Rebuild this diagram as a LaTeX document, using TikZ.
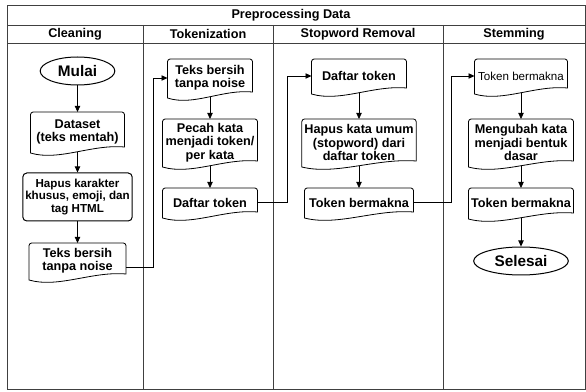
\documentclass[tikz,border=0pt]{standalone}
\usepackage{fontspec}
\setmainfont{Liberation Sans}
\usetikzlibrary{shapes.geometric,arrows.meta,calc}

\tikzset{every picture/.style={line width=0.75pt}}
\tikzset{
  lane/.style={draw=black!75, line width=0.6pt},
  lanetitle/.style={inner sep=0.75pt, font=\fontsize{9.5}{11}\selectfont\bfseries},
  doc/.style={align=center, inner sep=1pt, font=\fontsize{9.5}{10}\selectfont\bfseries},
  process/.style={draw, rounded corners=3pt, align=center, inner sep=1pt, font=\fontsize{8.7}{9.7}\selectfont\bfseries},
  terminal/.style={draw, ellipse, inner sep=0pt, minimum height=21pt, font=\fontsize{11.5}{12}\selectfont\bfseries},
  flow/.style={-{Triangle[length=4.5pt,width=4pt]}, line width=0.6pt}
}
% document shape drawn round a named node, wavy bottom through its south anchor
\newcommand{\docshape}[1]{%
  \draw[line width=0.6pt] ($(#1.south west)+(0,1)$) [rounded corners=2pt] -- (#1.north west) -- (#1.north east) [sharp corners] -- ($(#1.south east)+(0,-5)$) .. controls ($(#1.south east)!0.35!(#1.south west)+(0,-8)$) and ($(#1.south east)!0.7!(#1.south west)+(0,9.5)$) .. ($(#1.south west)+(0,1)$) -- cycle;}

\begin{document}
\begin{tikzpicture}[x=0.75pt,y=0.75pt,yscale=-1,xscale=1]
\fill[white] (0,0) rectangle (586,392);
\useasboundingbox (0,0) rectangle (586,392);

%Swimlanes
\draw[lane] (7,5) rectangle (585,389);
\draw[lane] (7,25) -- (585,25);
\draw[lane] (7,43) -- (585,43);
\draw[lane] (143,25) -- (143,389);
\draw[lane] (273,25) -- (273,389);
\draw[lane] (443,25) -- (443,389);

% Lane titles
\node[lanetitle] (judul) at (291,15) {Preprocessing Data};
\node[lanetitle] (hcl) at (75,34) {Cleaning};
\node[lanetitle] (htk) at (208,34) {Tokenization};
\node[lanetitle] (hsw) at (358,34) {Stopword Removal};
\node[lanetitle] (hst) at (514,34) {Stemming};

% Cleaning
\node[terminal, minimum width=56pt] (mulai) at (77.5,71) {Mulai};
\node[doc, anchor=north, minimum width=69.75pt, minimum height=29.25pt] (cl2) at (77.5,112) {Dataset\\(teks mentah)};
\node[process, minimum width=82pt, minimum height=36pt] (cl3) at (77.5,197) {Hapus karakter\\khusus, emoji, dan\\tag HTML};
\node[doc, anchor=north, minimum width=72pt, minimum height=26.25pt] (cl4) at (77.5,243) {Teks bersih\\tanpa noise};

% Tokenization
\node[doc, anchor=north, minimum width=63pt, minimum height=27.75pt] (tk1) at (210,59) {Teks bersih\\tanpa noise};
\node[doc, anchor=north, minimum width=70.5pt, minimum height=34.5pt] (tk2) at (210,119) {Pecah kata\\menjadi token/\\per kata};
\node[doc, anchor=north, minimum width=70.5pt, minimum height=21pt] (tk3) at (210,188) {Daftar token};

% Stopword Removal
\node[doc, anchor=north, minimum width=70.5pt, minimum height=24.75pt] (sw1) at (359,59) {Daftar token};
\node[doc, anchor=north, minimum width=85pt, minimum height=34.5pt] (sw2) at (359,119) {Hapus kata umum\\(stopword) dari\\daftar token};
\node[doc, anchor=north, minimum width=81pt, minimum height=21pt] (sw3) at (359,188) {Token bermakna};

% Stemming
\node[doc, anchor=north, minimum width=69pt, minimum height=24.75pt, font=\fontsize{8.7}{10}\selectfont] (st1) at (521,59) {Token bermakna};
\node[doc, anchor=north, minimum width=78pt, minimum height=34.5pt] (st2) at (521,119) {Mengubah kata\\menjadi bentuk\\dasar};
\node[doc, anchor=north, minimum width=78pt, minimum height=21.75pt] (st3) at (521,188) {Token bermakna};
\node[terminal, minimum width=71pt] (selesai) at (521,261) {Selesai};

\foreach \n in {cl2,cl4,tk1,tk2,tk3,sw1,sw2,sw3,st1,st2,st3}
  \docshape{\n};

% Connectors
\draw[flow] (mulai) -- (cl2);
\draw[flow] (cl2) -- (cl3);
\draw[flow] (cl3) -- (cl4);
\draw[flow] ($(cl4.east)+(0,6)$) -- ++(27,0) |- (tk1.west);
\draw[flow] (tk1) -- (tk2);
\draw[flow] (tk2) -- (tk3);
\draw[flow] (tk3.east) -- ++(30,0) |- (sw1.west);
\draw[flow] (sw1) -- (sw2);
\draw[flow] (sw2) -- (sw3);
\draw[flow] (sw3.east) -- ++(38,0) |- (st1.west);
\draw[flow] (st1) -- (st2);
\draw[flow] (st2) -- (st3);
\draw[flow] (st3) -- (selesai);

\end{tikzpicture}
\end{document}
